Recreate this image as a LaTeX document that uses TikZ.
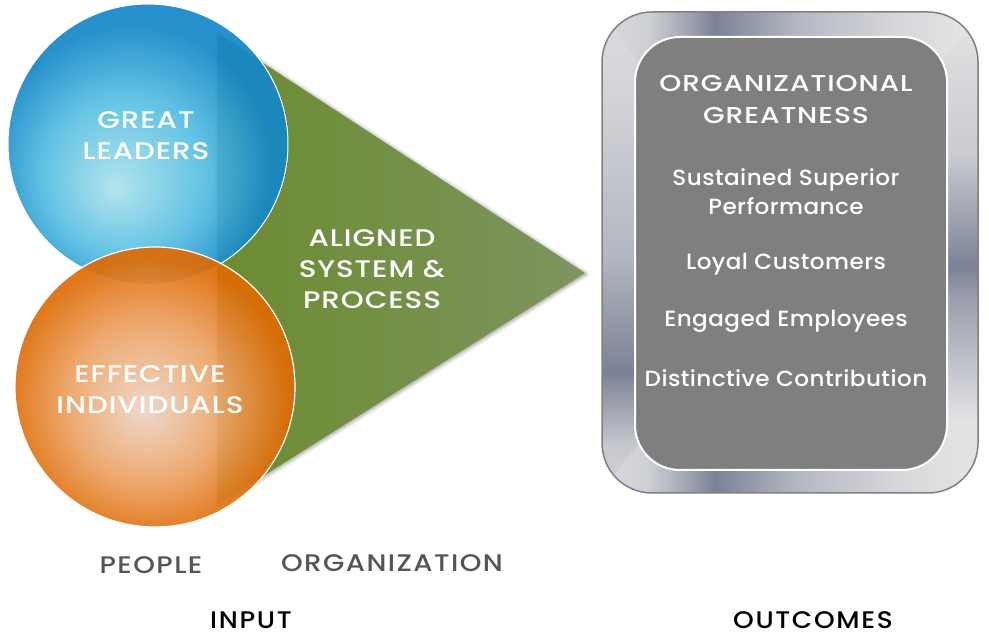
\documentclass[tikz,border=0pt]{standalone}
\usepackage{fontspec}
\setmainfont{Poppins}[UprightFont={* Medium}]
\newfontfamily\ballfont{Poppins}[UprightFont={* Medium}, FakeStretch=1.22, LetterSpace=4]
\newfontfamily\itemfont{Poppins}[UprightFont={* Medium}, FakeStretch=1.05, LetterSpace=2]
\newfontfamily\labfont{Poppins}[UprightFont={* Medium}, FakeStretch=1.15, LetterSpace=6]
\newfontfamily\botfont{Poppins}[UprightFont={* Medium}, FakeStretch=1.1, LetterSpace=7]
\usetikzlibrary{shadows.blur}
\definecolor{bA}{HTML}{ACE2EA}
\definecolor{bB}{HTML}{58BEE2}
\definecolor{bC}{HTML}{1488C8}
\definecolor{oA}{HTML}{EBD6C8}
\definecolor{oB}{HTML}{ECA264}
\definecolor{oC}{HTML}{DE6C06}
\definecolor{gL}{HTML}{6C8C30}
\definecolor{gR}{HTML}{7E9460}
\definecolor{boxgray}{HTML}{7F7F7F}
\definecolor{labgray}{HTML}{555555}
\definecolor{mDark}{HTML}{7C8296}
\pgfdeclareradialshading{blueball}{\pgfpoint{-6bp}{-8bp}}{color(0bp)=(bA); color(14bp)=(bB); color(25bp)=(bC); color(50bp)=(bC)}
\pgfdeclareradialshading{orangeball}{\pgfpoint{-2bp}{-4bp}}{color(0bp)=(oA); color(14bp)=(oB); color(25bp)=(oC); color(50bp)=(oC)}
% top/bottom bands: varies along x
\pgfdeclarehorizontalshading{metalH}{100bp}{color(0bp)=({rgb,255:red,218;green,218;blue,222}); color(25bp)=({rgb,255:red,218;green,218;blue,222}); color(31bp)=({rgb,255:red,206;green,208;blue,213}); color(36bp)=({rgb,255:red,164;green,168;blue,180}); color(40bp)=(mDark); color(42bp)=({rgb,255:red,134;green,140;blue,158}); color(51bp)=({rgb,255:red,180;green,184;blue,194}); color(65bp)=({rgb,255:red,216;green,216;blue,220}); color(75bp)=({rgb,255:red,230;green,230;blue,230}); color(100bp)=({rgb,255:red,230;green,230;blue,230})}
% left band: varies along y (0bp = bottom)
\pgfdeclareverticalshading{metalL}{100bp}{color(0bp)=({rgb,255:red,212;green,213;blue,217}); color(25bp)=({rgb,255:red,212;green,213;blue,217}); color(30bp)=({rgb,255:red,198;green,200;blue,206}); color(34.5bp)=({rgb,255:red,154;green,158;blue,172}); color(37.5bp)=(mDark); color(50bp)=({rgb,255:red,180;green,184;blue,194}); color(68bp)=({rgb,255:red,214;green,214;blue,218}); color(75bp)=({rgb,255:red,220;green,220;blue,224}); color(100bp)=({rgb,255:red,220;green,220;blue,224})}
% right band
\pgfdeclareverticalshading{metalR}{100bp}{color(0bp)=({rgb,255:red,224;green,224;blue,228}); color(25bp)=({rgb,255:red,224;green,224;blue,228}); color(32.5bp)=({rgb,255:red,226;green,226;blue,228}); color(45bp)=({rgb,255:red,156;green,160;blue,174}); color(48.5bp)=(mDark); color(60bp)=({rgb,255:red,200;green,202;blue,208}); color(75bp)=({rgb,255:red,228;green,228;blue,228}); color(100bp)=({rgb,255:red,228;green,228;blue,228})}
\tikzset{
  balltext/.style={text=white, align=center, font=\ballfont\fontsize{24}{31}\selectfont},
  boxhead/.style={text=white, align=center, font=\ballfont\fontsize{23}{32}\selectfont},
  boxitem/.style={text=white, align=center, font=\itemfont\fontsize{22}{29}\selectfont},
  sublabel/.style={text=labgray, font=\labfont\fontsize{24}{26}\selectfont},
  mainlabel/.style={text=black, font=\botfont\fontsize{24}{26}\selectfont},
}
\begin{document}
\begin{tikzpicture}[x=1pt,y=-1pt]
\useasboundingbox (0,0) rectangle (989,644);
% triangle
\path[left color=gL, right color=gR, blur shadow={shadow xshift=1pt, shadow yshift=-1pt, shadow blur radius=4pt, shadow opacity=45}]
  (217,33) -- (585,273) -- (217,505) -- cycle;
% circles
\path[shading=blueball, opacity=0.92] (148,144) circle (140);
\draw[white, line width=1pt] (148,144) circle (140);
\path[shading=orangeball, opacity=0.92] (155,387) circle (140);
\draw[white, line width=1.2pt] (155,387) circle (140);
\node[balltext] (gl) at (146,136) {GREAT\\LEADERS};
\node[balltext] (ei) at (150,390) {EFFECTIVE\\INDIVIDUALS};
\node[balltext] (asp) at (372,269) {ALIGNED\\SYSTEM \&\\PROCESS};
% outcome box: metallic frame
\begin{scope}
  \clip[rounded corners=50] (602,12) rectangle (978,493);
  \shade[shading=metalH] (602,12) rectangle (978,493);
  \begin{scope}
    \clip (590,0) -- (790,252) -- (590,505) -- cycle;
    \shade[shading=metalL] (602,12) rectangle (978,493);
  \end{scope}
  \begin{scope}
    \clip (990,0) -- (790,252) -- (990,505) -- cycle;
    \shade[shading=metalR] (602,12) rectangle (978,493);
  \end{scope}
\end{scope}
\draw[draw=gray, line width=1.5pt, rounded corners=50] (602,12) rectangle (978,493);
\draw[draw=white, fill=boxgray, line width=2pt, rounded corners=45] (635,37) rectangle (947,470);
\node[boxhead] (og) at (786,99) {ORGANIZATIONAL\\GREATNESS};
\node[boxitem] (ssp) at (786,192) {Sustained Superior\\Performance};
\node[boxitem] (lc) at (786,264) {Loyal Customers};
\node[boxitem] (ee) at (786,321) {Engaged Employees};
\node[boxitem] (dc) at (786,378) {Distinctive Contribution};
% labels
\node[sublabel] (pe) at (151,565) {PEOPLE};
\node[sublabel] (org) at (392,563) {ORGANIZATION};
\node[mainlabel] (inp) at (251,620) {INPUT};
\node[mainlabel] (out) at (813,620) {OUTCOMES};
\end{tikzpicture}
\end{document}
